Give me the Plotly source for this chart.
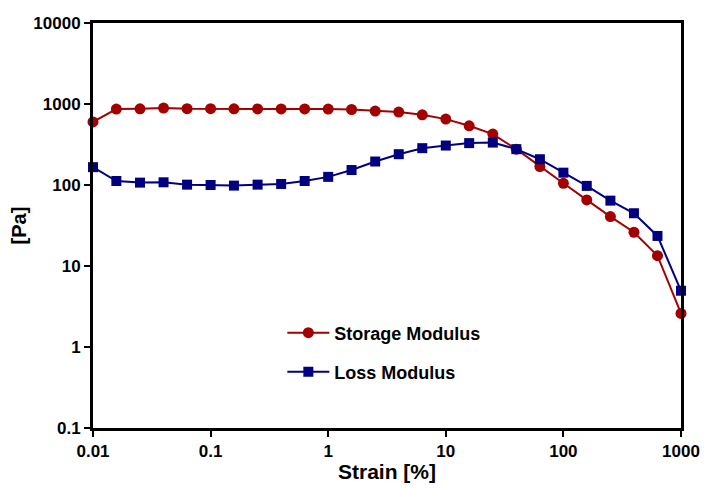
import plotly.graph_objects as go

strain = [0.01, 0.0158, 0.0251, 0.0398, 0.0631, 0.1, 0.158, 0.251, 0.398, 0.631,
          1, 1.58, 2.51, 3.98, 6.31, 10, 15.8, 25.1, 39.8, 63.1,
          100, 158, 251, 398, 631, 1000]
storage = [600, 865, 873, 890, 875, 875, 873, 870, 870, 868,
           865, 855, 818, 794, 736, 651, 538, 425, 277, 169,
           105, 65.5, 40.7, 26.1, 13.4, 2.6]
loss = [166, 112, 107, 108, 101, 100, 98.3, 101, 103, 112,
        126, 153, 195, 240, 285, 307, 329, 334, 277, 208,
        142, 97.5, 64.1, 44.8, 23.5, 4.95]

x_ticks = [0.01, 0.1, 1, 10, 100, 1000]
x_ticktext = ["0.01", "0.1", "1", "10", "100", "1000"]
y_ticks = [0.1, 1, 10, 100, 1000, 10000]
y_ticktext = ["0.1", "1", "10", "100", "1000", "10000"]

RED = "#A30000"
BLUE = "#000080"
FONT = "Liberation Sans"

fig = go.Figure()
fig.add_trace(go.Scatter(
    x=strain, y=storage, mode="lines+markers", name="Storage Modulus",
    line=dict(color=RED, width=2),
    marker=dict(symbol="circle", size=11, color=RED),
    cliponaxis=False, legend="legend", showlegend=True))
fig.add_trace(go.Scatter(
    x=strain, y=loss, mode="lines+markers", name="Loss Modulus",
    line=dict(color=BLUE, width=2),
    marker=dict(symbol="square", size=10, color=BLUE),
    cliponaxis=False, legend="legend2", showlegend=True))

axis_common = dict(
    type="log", showline=True, linecolor="black", linewidth=3, mirror=True,
    ticks="outside", ticklen=6, tickwidth=2, tickcolor="black",
    showgrid=False, zeroline=False, automargin=False,
    tickfont=dict(family=FONT, size=17, color="black", weight="bold"),
)

legend_common = dict(
    xanchor="left", yanchor="middle", bgcolor="rgba(0,0,0,0)", itemwidth=42,
    font=dict(family=FONT, size=18, color="black", weight="bold"),
)

fig.update_layout(
    width=705, height=488,
    margin=dict(l=93, r=24, t=23, b=60),
    paper_bgcolor="white", plot_bgcolor="white",
    showlegend=True,
    font=dict(family=FONT, color="black"),
    xaxis=dict(range=[-2, 3], tickvals=x_ticks, ticktext=x_ticktext,
               title=dict(text="Strain [%]", font=dict(family=FONT, size=21, weight="bold"), standoff=4),
               **axis_common),
    yaxis=dict(range=[-1, 4], tickvals=y_ticks, ticktext=y_ticktext,
               title=dict(text="[Pa]", font=dict(family=FONT, size=20, weight="bold"), standoff=2),
               **axis_common),
    legend=dict(x=0.322, y=0.2346, **legend_common),
    legend2=dict(x=0.322, y=0.138, **legend_common),
)

fig.write_html("out.html")
